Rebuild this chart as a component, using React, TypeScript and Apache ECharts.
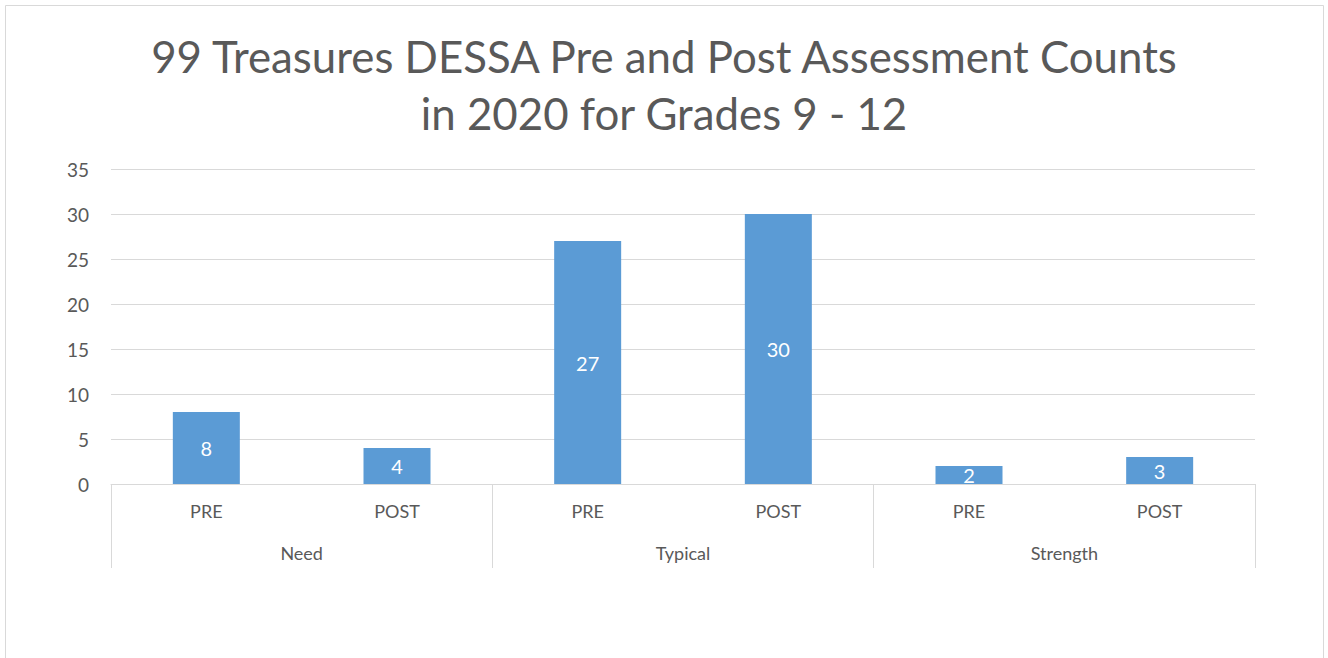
import React, { useEffect, useRef } from "react";
import * as echarts from "echarts";

const barLabels = ["PRE", "POST", "PRE", "POST", "PRE", "POST"];
const groupLabels = ["Need", "Typical", "Strength"];
const counts = [8, 4, 27, 30, 2, 3];
const titleText = "99 Treasures DESSA Pre and Post Assessment Counts\nin 2020 for Grades 9 - 12";

const FONT = "Lato, 'Open Sans', sans-serif";
const GREY = "#595959";

export default function App() {
  const ref = useRef<HTMLDivElement>(null);
  useEffect(() => {
    if (!ref.current) return;
    const chart = echarts.init(ref.current, undefined, { renderer: "svg" });
    chart.setOption({
      animation: false,
      backgroundColor: "#ffffff",
      graphic: [
        {
          type: "rect",
          shape: { x: 5.5, y: 5.5, width: 1318, height: 700 },
          style: { fill: "none", stroke: "#d9d9d9", lineWidth: 1 },
          silent: true,
        },
      ],
      title: {
        text: titleText,
        left: "center",
        top: 22,
        textStyle: {
          fontFamily: FONT,
          fontSize: 43.8,
          fontWeight: "normal",
          color: GREY,
          lineHeight: 57,
        },
      },
      grid: { left: 111, right: 73, top: 169, bottom: 174, containLabel: false },
      xAxis: [
        {
          type: "category",
          data: barLabels,
          position: "bottom",
          axisLine: { show: true, lineStyle: { color: "#d9d9d9", width: 1 } },
          axisTick: { show: false },
          axisLabel: { margin: 18, fontFamily: FONT, fontSize: 18, color: GREY, interval: 0 },
        },
        {
          type: "category",
          data: groupLabels,
          position: "bottom",
          axisLine: { show: false },
          axisTick: { show: true, length: 84, inside: false, lineStyle: { color: "#d9d9d9", width: 1 } },
          axisLabel: { margin: 60, fontFamily: FONT, fontSize: 18, color: GREY, interval: 0 },
        },
      ],
      yAxis: {
        type: "value",
        min: 0,
        max: 35,
        interval: 5,
        axisLine: { show: false },
        axisTick: { show: false },
        splitLine: { lineStyle: { color: "#d9d9d9", width: 1 } },
        axisLabel: { margin: 22, fontFamily: FONT, fontSize: 19, color: GREY },
      },
      series: [
        {
          type: "bar",
          xAxisIndex: 0,
          data: counts,
          barWidth: 67,
          itemStyle: { color: "#5b9bd5" },
          label: {
            show: true,
            position: "inside",
            color: "#ffffff",
            fontFamily: FONT,
            fontSize: 20,
          },
        },
      ],
    });
    return () => chart.dispose();
  }, []);
  return (
    <div
      ref={ref}
      style={{ position: "fixed", left: 0, top: 0, width: 1328, height: 658 }}
    />
  );
}
